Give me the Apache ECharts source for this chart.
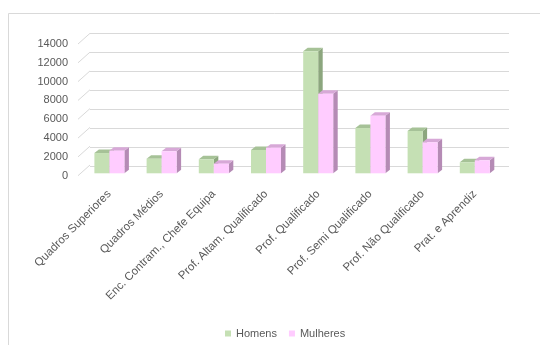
<!DOCTYPE html>
<html>
<head>
<meta charset="utf-8">
<script src="https://cdn.jsdelivr.net/npm/echarts@6/dist/echarts.min.js"></script>
<style>html,body{margin:0;padding:0;background:#fff;}#c{width:540px;height:345px;}</style>
</head>
<body>
<div id="c"></div>
<script>
const categories = ['Quadros Superiores','Quadros Médios','Enc. Contram., Chefe Equipa','Prof. Altam. Qualificado','Prof. Qualificado','Prof. Semi Qualificado','Prof. Não Qualificado','Prat. e Aprendiz'];
const homens = [2150, 1550, 1490, 2470, 12950, 4800, 4490, 1170];
const mulheres = [2400, 2330, 1020, 2720, 8450, 6110, 3290, 1380];
const yTicks = [0, 2000, 4000, 6000, 8000, 10000, 12000, 14000];

const FONT = 'Liberation Sans';
const TXT = '#595959';
const GRIDC = '#D9D9D9';
const DX = 4.5, DY = -3.5;
const palette = [
  {front:'#C5E0B4', side:'#8CA67E', top:'#A6C297'},
  {front:'#FFCCFF', side:'#B58BB5', top:'#D7A8D7'}
];

function barRender(si){
  return function(params, api){
    const x = api.value(0), v = api.value(1);
    const base = api.coord([x, 0]);
    const top = api.coord([x, v]);
    const bw = api.size([1, 0])[0] * 0.2875;
    const x0 = base[0] - bw + si * bw;
    const x1 = x0 + bw;
    const c = palette[si];
    return {type:'group', children:[
      {type:'polygon', shape:{points:[[x1,base[1]],[x1,top[1]],[x1+DX,top[1]+DY],[x1+DX,base[1]+DY]]}, style:{fill:c.side}},
      {type:'polygon', shape:{points:[[x0,top[1]],[x1,top[1]],[x1+DX,top[1]+DY],[x0+DX,top[1]+DY]]}, style:{fill:c.top}},
      {type:'rect', shape:{x:x0, y:top[1], width:bw, height:base[1]-top[1]}, style:{fill:c.front}}
    ]};
  };
}

const chart = echarts.init(document.getElementById('c'));
chart.setOption({
  animation:false,
  backgroundColor:'#fff',
  graphic:[{type:'rect', shape:{x:8.5, y:13.5, width:600, height:400}, style:{fill:'none', stroke:GRIDC, lineWidth:1}, silent:true, z:-1}],
  legend:{
    data:['Homens','Mulheres'], top:323, left:220, icon:'rect', itemWidth:6, itemHeight:6, itemGap:12,
    textStyle:{color:TXT, fontFamily:FONT, fontSize:11}
  },
  grid:[
    {left:78, top:44, width:417.6, height:131.7},
    {left:90, top:33.3, width:419, height:132.7},
    {left:83.3, top:41.3, width:417.6, height:132}
  ],
  xAxis:[
    {gridIndex:0, type:'value', min:0, max:1, show:false},
    {gridIndex:1, type:'category', data:categories, show:false},
    {gridIndex:2, type:'category', data:categories, axisLine:{show:false}, axisTick:{show:false},
     axisLabel:{interval:0, rotate:45, margin:19, color:TXT, fontFamily:FONT, fontSize:11.5}}
  ],
  yAxis:[
    {gridIndex:0, type:'value', min:0, max:14000, interval:2000, axisLine:{show:false}, axisTick:{show:false}, splitLine:{show:false},
     axisLabel:{margin:10, color:TXT, fontFamily:FONT, fontSize:11, formatter:function(v){return String(v);}}},
    {gridIndex:1, type:'value', min:0, max:14000, interval:2000, axisLine:{show:false}, axisTick:{show:false}, axisLabel:{show:false},
     splitLine:{lineStyle:{color:GRIDC, width:1}}},
    {gridIndex:2, type:'value', min:0, max:14000, show:false}
  ],
  series:[
    {type:'custom', name:'connectors', xAxisIndex:0, yAxisIndex:0, data:yTicks.map(v=>[0,v]), silent:true,
     renderItem:function(params, api){
       const p = api.coord([0, api.value(1)]);
       return {type:'line', shape:{x1:p[0], y1:p[1], x2:p[0]+12, y2:p[1]-10.7}, style:{stroke:GRIDC, lineWidth:1}};
     }},
    {type:'custom', name:'Homens', xAxisIndex:2, yAxisIndex:2, itemStyle:{color:palette[0].front},
     data:homens.map((v,i)=>[i,v]), renderItem:barRender(0)},
    {type:'custom', name:'Mulheres', xAxisIndex:2, yAxisIndex:2, itemStyle:{color:palette[1].front},
     data:mulheres.map((v,i)=>[i,v]), renderItem:barRender(1)}
  ]
});
</script>
</body>
</html>
